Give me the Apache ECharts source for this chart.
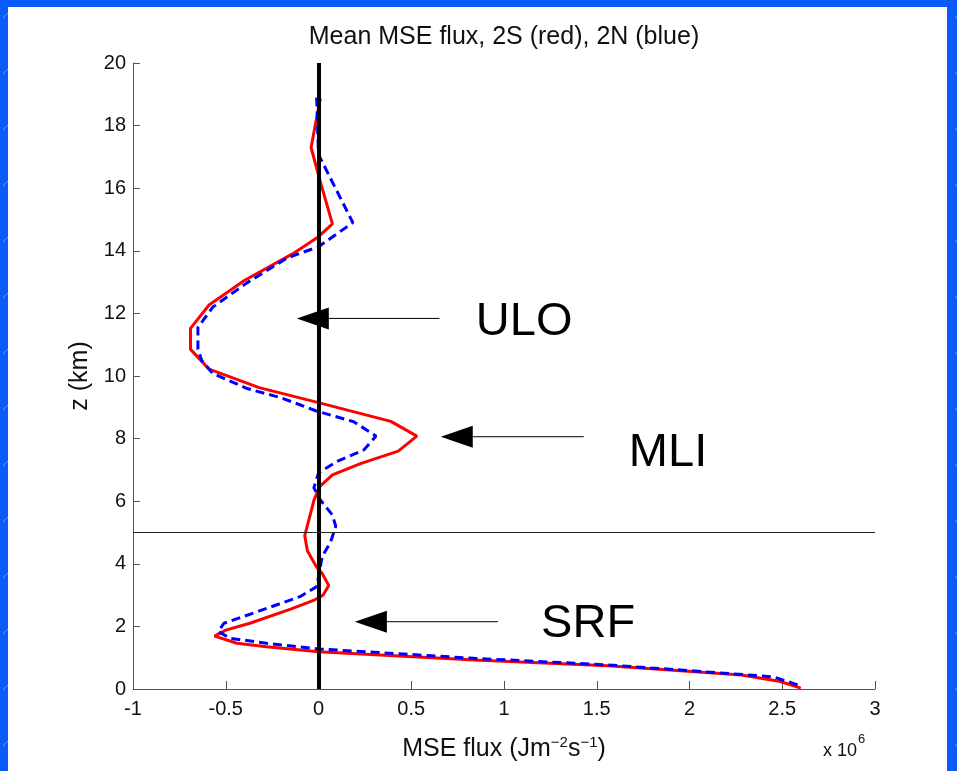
<!DOCTYPE html>
<html>
<head>
<meta charset="utf-8">
<script src="https://cdn.jsdelivr.net/npm/echarts@6/dist/echarts.min.js"></script>
<style>
  html, body { margin: 0; padding: 0; width: 957px; height: 771px; overflow: hidden; background: #0a5bf7; }
  #chart { width: 957px; height: 771px; }
</style>
</head>
<body>
<div id="chart"></div>
<script>
// ---- data (MSE flux in units of 10^6, height z in km) ----
const z2S    = [18.87, 17.3, 16.2, 14.86, 14.45, 13.9, 13.05, 12.27, 11.52, 10.85, 10.22, 9.63, 9.15, 8.55, 8.08, 7.6, 7.21, 6.84, 6.46, 6.02, 4.9, 4.42, 3.91, 3.69, 3.31, 3.0, 2.85, 2.55, 2.1, 1.88, 1.69, 1.46, 1.35, 1.19, 0.93, 0.74, 0.57, 0.45, 0.24, 0.03];
const flux2S = [0.01, -0.04, 0.01, 0.075, 0.0, -0.14, -0.40, -0.59, -0.69, -0.69, -0.59, -0.32, 0.0, 0.39, 0.53, 0.43, 0.23, 0.075, 0.005, -0.025, -0.074, -0.06, -0.012, 0.02, 0.055, 0.025, -0.02, -0.15, -0.37, -0.5, -0.56, -0.44, -0.28, 0.0, 0.84, 1.56, 1.99, 2.28, 2.49, 2.6];

const z2N    = [18.9, 17.08, 16.37, 14.9, 14.13, 13.77, 12.96, 12.2, 11.55, 10.87, 10.5, 10.08, 9.6, 9.3, 8.89, 8.54, 8.08, 7.64, 7.27, 6.9, 6.43, 6.04, 5.56, 5.2, 4.71, 4.23, 3.59, 3.27, 2.95, 2.47, 2.1, 1.83, 1.62, 1.46, 1.28, 0.98, 0.77, 0.59, 0.39, 0.1];
const flux2N = [-0.01, 0.0, 0.06, 0.185, 0.0, -0.17, -0.39, -0.57, -0.65, -0.65, -0.63, -0.57, -0.385, -0.2, -0.015, 0.19, 0.31, 0.245, 0.10, 0.0, -0.025, 0.01, 0.075, 0.093, 0.066, 0.02, 0.0, -0.01, -0.10, -0.33, -0.51, -0.54, -0.475, -0.28, 0.0, 0.84, 1.56, 1.99, 2.45, 2.6];

const xTicks = [-1, -0.5, 0, 0.5, 1, 1.5, 2, 2.5, 3];
const yTicks = [0, 2, 4, 6, 8, 10, 12, 14, 16, 18, 20];

const titleText = 'Mean MSE flux, 2S (red), 2N (blue)';
const refLineFlux = 0;   // vertical zero line
const refLineZ = 5;      // horizontal line at 5 km

// annotation arrows (data coordinates): label, arrow tip, arrow tail, label anchor (left, middle)
const annLabels = ['ULO', 'MLI', 'SRF'];
const annTip    = [[-0.117, 11.84], [0.659, 8.06], [0.196, 2.15]];
const annTail   = [[0.652, 11.84], [1.43, 8.06], [0.967, 2.15]];
const annText   = [[0.848, 11.72], [1.673, 7.55], [1.2, 2.06]];

// ---- background pattern (slide) ----
(function () {
  const c = document.createElement('canvas');
  c.width = 56; c.height = 56;
  const g = c.getContext('2d');
  g.fillStyle = '#0a5bf7';
  g.fillRect(0, 0, 56, 56);
  g.strokeStyle = 'rgba(255,255,255,0.35)';
  g.lineWidth = 1;
  g.beginPath();
  g.moveTo(3, 18); g.lineTo(13, 8);
  g.moveTo(31, 48); g.lineTo(41, 38);
  g.stroke();
  document.body.style.backgroundImage = 'url(' + c.toDataURL() + ')';
})();

const FONT = '"Liberation Sans", Arial, Helvetica, sans-serif';
const chart = echarts.init(document.getElementById('chart'), null, { renderer: 'canvas' });

const grid = { left: 133, right: 82, top: 63, bottom: 82 };

chart.setOption({
  animation: false,
  backgroundColor: 'transparent',
  grid: grid,
  xAxis: {
    type: 'value',
    min: xTicks[0], max: xTicks[xTicks.length - 1], interval: 0.5,
    axisLine: { show: true, onZero: false, lineStyle: { color: '#555', width: 1 } },
    axisTick: { show: true, inside: true, length: 8, lineStyle: { color: '#555' } },
    splitLine: { show: false },
    axisLabel: { color: '#111', fontSize: 20, fontFamily: FONT, margin: 10, showMinLabel: true, showMaxLabel: true },
    name: 'MSE flux (Jm{sup|−2}s{sup|−1})',
    nameLocation: 'middle',
    nameGap: 46,
    nameTextStyle: {
      color: '#111', fontSize: 25, fontFamily: FONT, verticalAlign: 'top',
      rich: { sup: { fontSize: 15, fontFamily: FONT, color: '#111', verticalAlign: 'top', padding: [0, 0, 14, 0] } }
    }
  },
  yAxis: {
    type: 'value',
    min: yTicks[0], max: yTicks[yTicks.length - 1], interval: 2,
    axisLine: { show: true, onZero: false, lineStyle: { color: '#555', width: 1 } },
    axisTick: { show: true, inside: true, length: 7, lineStyle: { color: '#555' } },
    splitLine: { show: false },
    axisLabel: { color: '#111', fontSize: 20, fontFamily: FONT, margin: 7, showMinLabel: true, showMaxLabel: true },
    name: 'z (km)',
    nameLocation: 'middle',
    nameGap: 35,
    nameTextStyle: { color: '#111', fontSize: 25, fontFamily: FONT }
  },
  series: [
    {
      name: '2S', type: 'line', z: 3,
      data: z2S.map((z, i) => [flux2S[i], z]),
      showSymbol: false, symbol: 'none', smooth: false,
      lineStyle: { color: '#ff0000', width: 3, type: 'solid' }
    },
    {
      name: '2N', type: 'line', z: 4,
      data: z2N.map((z, i) => [flux2N[i], z]),
      showSymbol: false, symbol: 'none', smooth: false,
      lineStyle: { color: '#0000ff', width: 3, type: [9, 5] }
    },
    {
      name: 'ref', type: 'line', z: 5, data: [],
      markLine: {
        silent: true, symbol: ['none', 'none'], animation: false,
        label: { show: false },
        data: [
          { xAxis: refLineFlux, lineStyle: { color: '#000', width: 4, type: 'solid' } },
          { yAxis: refLineZ, lineStyle: { color: '#222', width: 1, type: 'solid' } }
        ]
      }
    }
  ]
});

// ---- graphics: white slide panel, title, x10^6, arrows and labels ----
const W = 957, H = 771;
const plotCx = grid.left + (W - grid.left - grid.right) / 2;
const gfx = [
  { type: 'rect', z: -100, silent: true, shape: { x: 8, y: 7, width: 939, height: 764 }, style: { fill: '#ffffff' } },
  { type: 'text', x: plotCx, y: 37, style: { text: titleText, fill: '#111', font: '25px ' + FONT, align: 'center', verticalAlign: 'middle' } },
  { type: 'text', x: 823, y: 751, style: { text: 'x 10', fill: '#111', font: '18px ' + FONT, align: 'left', verticalAlign: 'middle' } },
  { type: 'text', x: 858, y: 739, style: { text: '6', fill: '#111', font: '13px ' + FONT, align: 'left', verticalAlign: 'middle' } }
];
for (let i = 0; i < annLabels.length; i++) {
  const tip = chart.convertToPixel({ gridIndex: 0 }, annTip[i]);
  const tail = chart.convertToPixel({ gridIndex: 0 }, annTail[i]);
  const txt = chart.convertToPixel({ gridIndex: 0 }, annText[i]);
  const headLen = 32, half = 11;
  gfx.push({ type: 'line', z: 10, shape: { x1: tip[0] + headLen - 2, y1: tip[1], x2: tail[0], y2: tail[1] }, style: { stroke: '#000', lineWidth: 1 } });
  gfx.push({ type: 'polygon', z: 10, shape: { points: [[tip[0], tip[1]], [tip[0] + headLen, tip[1] - half], [tip[0] + headLen, tip[1] + half]] }, style: { fill: '#000' } });
  gfx.push({ type: 'text', z: 10, x: txt[0], y: txt[1], style: { text: annLabels[i], fill: '#000', font: '47px ' + FONT, align: 'left', verticalAlign: 'middle' } });
}
chart.setOption({ graphic: gfx });
</script>
</body>
</html>
